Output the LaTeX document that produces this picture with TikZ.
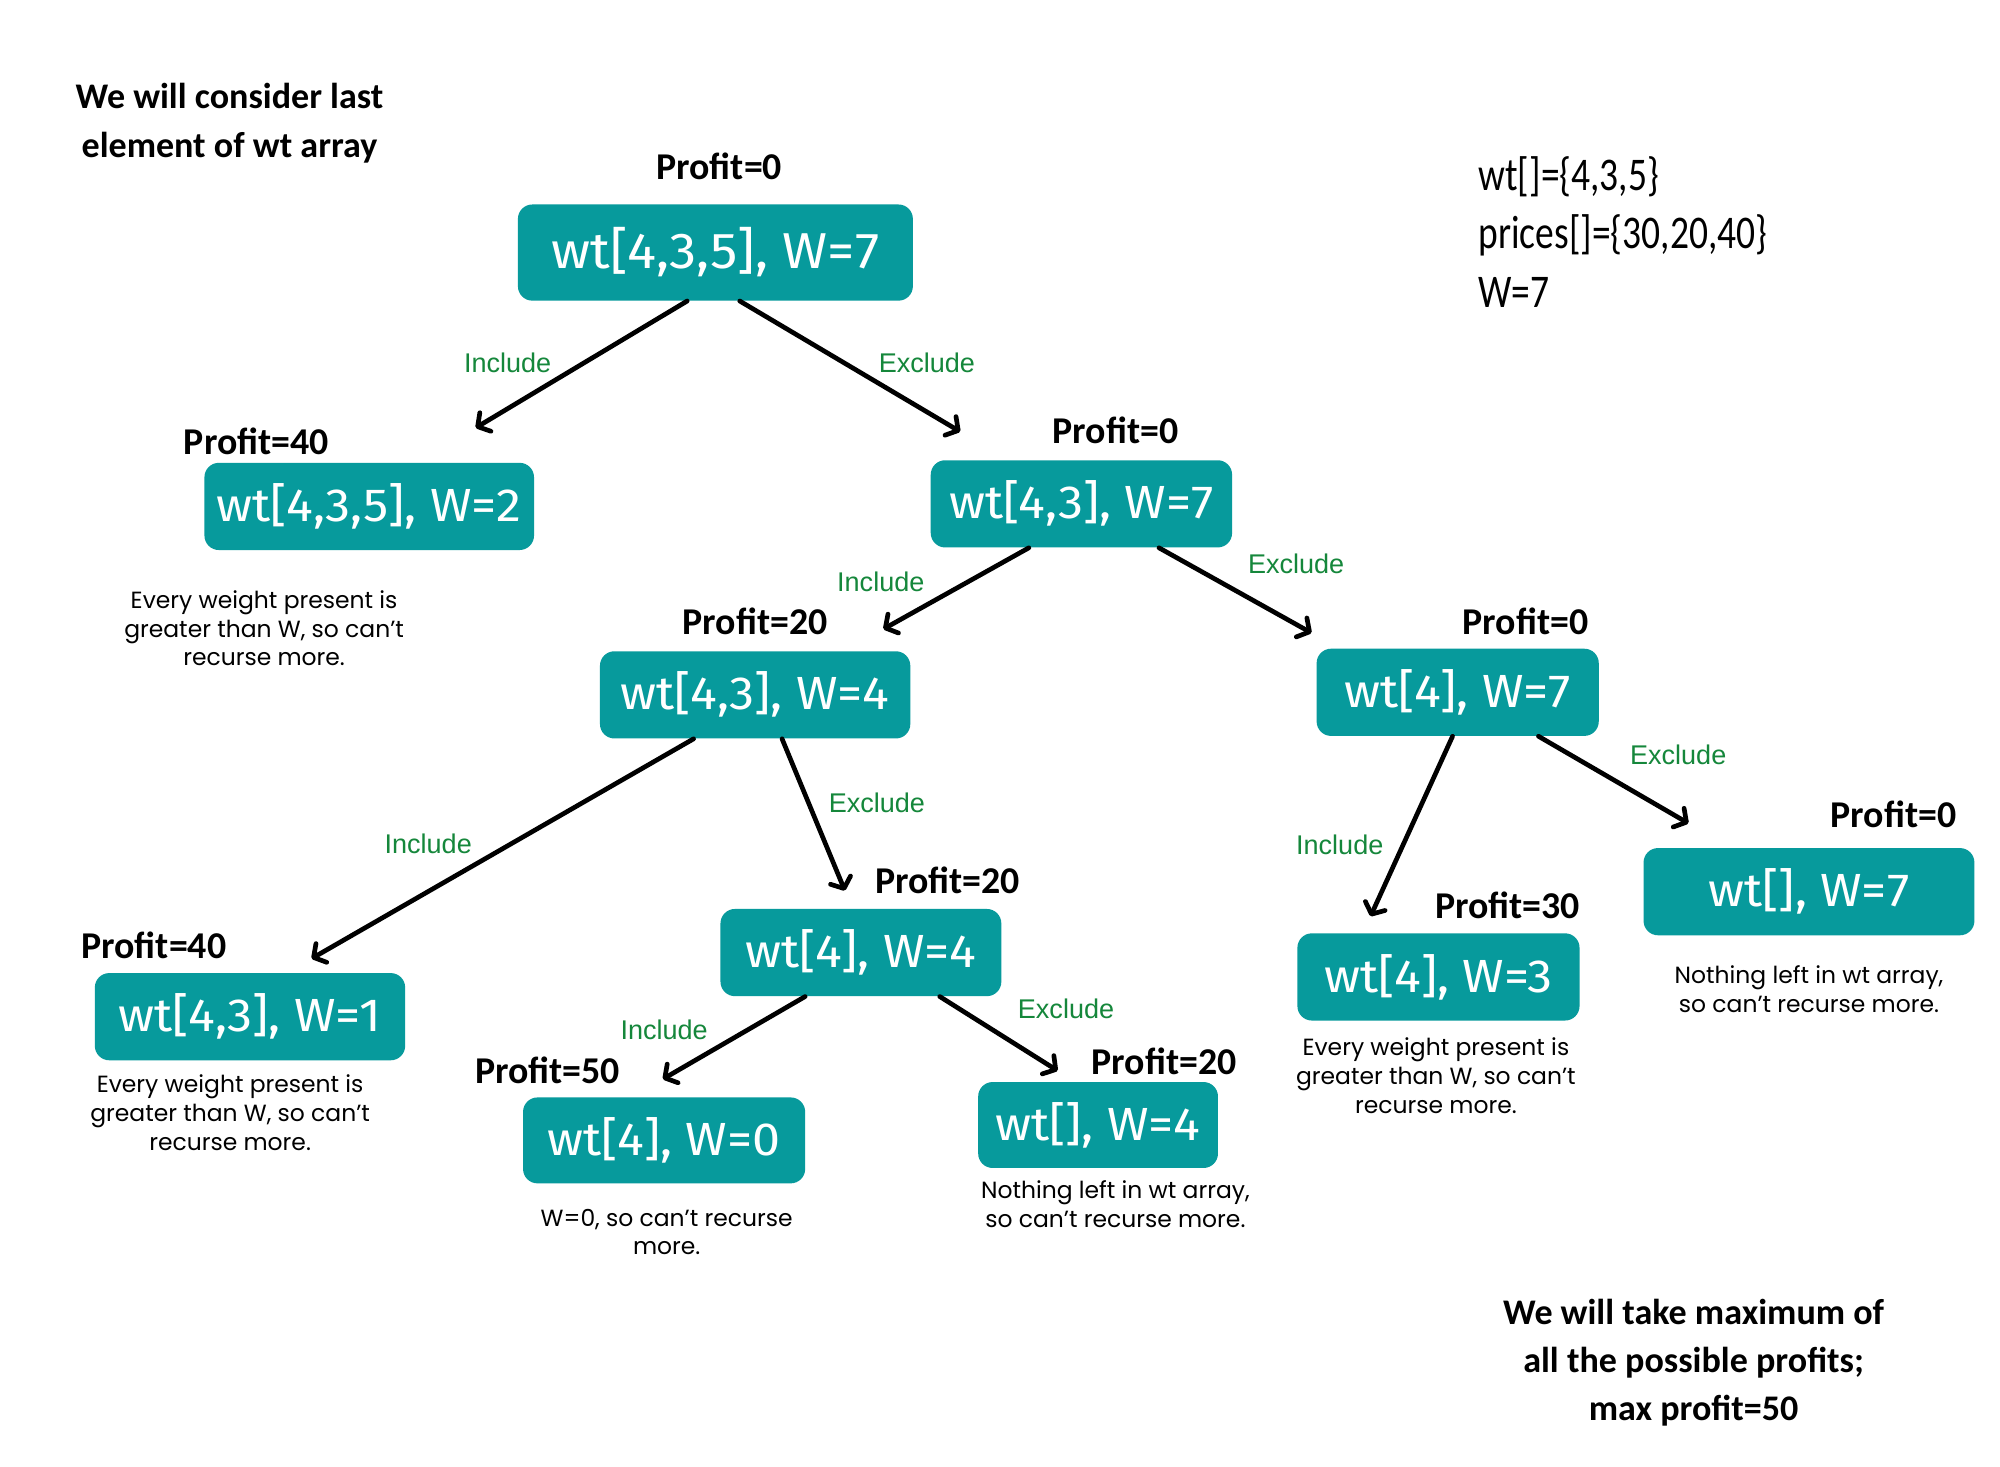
\documentclass[tikz,border=0pt]{standalone}
\usepackage{fontspec}
\usetikzlibrary{calc, arrows.meta}
\setmainfont{Poppins}
\newfontfamily\boxfont[FakeStretch=1.08]{Fira Sans}
\newfontfamily\headfont{Carlito}
\newfontfamily\infofont[FakeStretch=0.8]{Carlito}
\newfontfamily\edgefont{Liberation Sans}
\usepackage{xcolor}
\definecolor{myteal}{HTML}{079A9C}
\definecolor{mygreen}{HTML}{15873B}
\tikzset{>={Straight Barb[length=5pt,width=12pt,line cap=round,line join=round]}}

\begin{document}
\begin{tikzpicture}[x=0.025cm, y=-0.025cm,
                    line cap=round, line join=round,
                    wbox/.style={fill=myteal, text=white, rounded corners=8pt,
                                 minimum height=1.7cm, inner sep=0pt,
                                 font=\boxfont\fontsize{25.8}{30}\selectfont},
                    profit/.style={font=\headfont\bfseries\fontsize{21}{25}\selectfont, inner sep=0pt},
                    choice/.style={text=mygreen, font=\edgefont\fontsize{15}{18}\selectfont, inner sep=0pt},
                    note/.style={align=center, inner sep=0pt, font=\fontsize{13}{16}\selectfont},
                    edge/.style={->, line width=2.6pt}]
  \fill[white] (0,0) rectangle (1560,1144);
  \useasboundingbox (0,0) rectangle (1560,1144);

  % texts round the tree
  \node[align=center, inner sep=0pt, font=\headfont\bfseries\fontsize{20}{27}\selectfont] (head) at (179,96)
    {We will consider last\\element of wt array};
  \node[align=left, anchor=west, inner sep=0pt, font=\infofont\fontsize{26}{32.4}\selectfont] (info) at (1153,181)
    {wt[]=\{4,3,5\}\\prices[]=\{30,20,40\}\\W=7};
  \node[align=center, inner sep=0pt, font=\headfont\bfseries\fontsize{20}{26.7}\selectfont] (result) at (1321,1063)
    {We will take maximum of\\all the possible profits;\\max profit=50};

  % boxes, named by the choices that lead to them (I = include, E = exclude)
  \node[wbox, minimum width=7.7cm, minimum height=1.875cm,
        font=\boxfont\fontsize{28}{32}\selectfont] (root) at (558,197) {wt[4,3,5], W=7};
  \node[wbox, minimum width=6.425cm] (nI)    at (288,395)    {wt[4,3,5], W=2};
  \node[wbox, minimum width=5.875cm] (nE)    at (843.5,393)  {wt[4,3], W=7};
  \node[wbox, minimum width=6.05cm]  (nEI)   at (589,542)    {wt[4,3], W=4};
  \node[wbox, minimum width=5.5cm]   (nEE)   at (1137,540)   {wt[4], W=7};
  \node[wbox, minimum width=6.05cm]  (nEII)  at (195,793)    {wt[4,3], W=1};
  \node[wbox, minimum width=5.475cm] (nEIE)  at (671.5,743)  {wt[4], W=4};
  \node[wbox, minimum width=5.5cm]   (nEEI)  at (1122,762)   {wt[4], W=3};
  \node[wbox, minimum width=6.45cm]  (nEEE)  at (1411,695.5) {wt[], W=7};
  \node[wbox, minimum width=5.5cm, minimum height=1.675cm]   (nEIEI) at (518,889.5) {wt[4], W=0};
  \node[wbox, minimum width=4.675cm, minimum height=1.675cm] (nEIEE) at (856.5,877.5) {wt[], W=4};

  % profits
  \node[profit] (p-root)  at (561,130)   {Profit=0};
  \node[profit] (p-nI)    at (200,344)   {Profit=40};
  \node[profit] (p-nE)    at (870,336)   {Profit=0};
  \node[profit] (p-nEI)   at (589,485)   {Profit=20};
  \node[profit] (p-nEE)   at (1190,485)  {Profit=0};
  \node[profit] (p-nEII)  at (120,737.5) {Profit=40};
  \node[profit] (p-nEIE)  at (739,687)   {Profit=20};
  \node[profit] (p-nEEI)  at (1176,706)  {Profit=30};
  \node[profit] (p-nEEE)  at (1477,635)  {Profit=0};
  \node[profit] (p-nEIEI) at (427,835)   {Profit=50};
  \node[profit] (p-nEIEE) at (908,828)   {Profit=20};

  % notes under the leaves
  \node[note] (t-nI)    at (206,490)   {Every weight present is\\greater than W, so can't\\recurse more.};
  \node[note] (t-nEII)  at (179.5,868) {Every weight present is\\greater than W, so can't\\recurse more.};
  \node[note] (t-nEEI)  at (1120,839)  {Every weight present is\\greater than W, so can't\\recurse more.};
  \node[note] (t-nEIEI) at (520,961)   {W=0, so can't recurse\\more.};
  \node[note] (t-nEIEE) at (870,939)   {Nothing left in wt array,\\so can't recurse more.};
  \node[note] (t-nEEE)  at (1411,771.5) {Nothing left in wt array,\\so can't recurse more.};

  % connectors: from box bottom (x offset) to a point above the child box
  \foreach \src/\dst/\sx/\ex/\ey in {root/nI/-22/83/-27, root/nE/19/-94.5/-22,
                                     nE/nEI/-41/100/-17, nE/nEE/60.5/-114/-12,
                                     nEI/nEII/-48/48/-11, nEI/nEIE/21/-12.5/-14,
                                     nEE/nEEI/-4/-53/-13, nEE/nEEE/63/-94/-19,
                                     nEIE/nEIEI/-43.5/-1/-14, nEIE/nEIEE/61.5/-31.5/-8.5}
    \draw[edge] ($(\src.south)+(\sx,0)$) -- ($(\dst.north)+(\ex,\ey)$);

  % choice labels
  \foreach \txt/\x/\y [count=\i] in {Include/396/283, Exclude/723/283,
                                     Include/687/454, Exclude/1011/440,
                                     Include/334/658, Exclude/684/626,
                                     Include/1045/659, Exclude/1309/589,
                                     Include/518/803.5, Exclude/831.5/787}
    \node[choice] (c\i) at (\x,\y) {\txt};

\end{tikzpicture}
\end{document}
